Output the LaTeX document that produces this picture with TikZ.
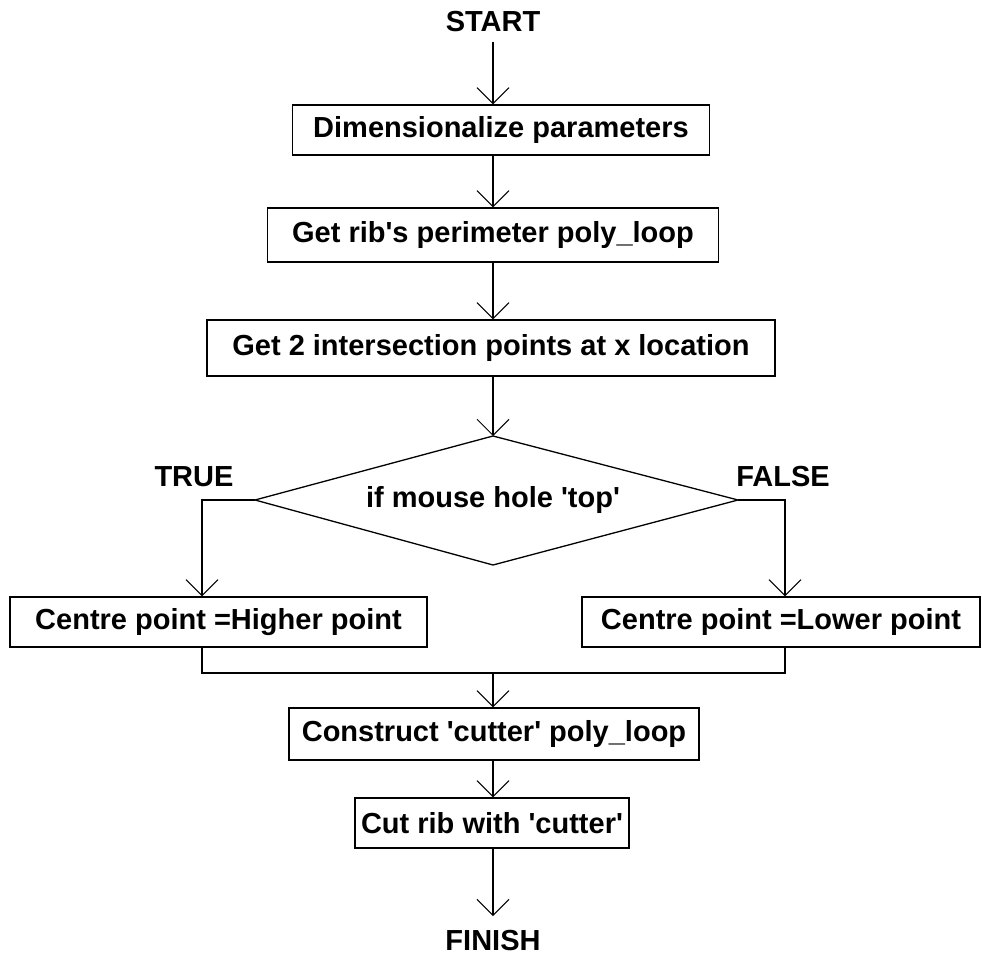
\documentclass[tikz,border=0pt]{standalone}
\usepackage{fontspec}
\setmainfont{Liberation Sans}
\setmonofont{Liberation Sans}
\usetikzlibrary{arrows.meta}
\begin{document}
\begin{tikzpicture}[x=1pt,y=-1pt,
  txt/.style={font=\ttfamily\bfseries\fontsize{29}{34}\selectfont, inner sep=0pt},
  box/.style={txt, draw, line width=1.3pt, minimum height=50pt},
  ln/.style={line width=1.3pt},
  arr/.style={ln, -{Straight Barb[length=16pt,width=32pt,line width=1pt]}}]
\useasboundingbox (0,0) rectangle (982,963);
% texts and boxes
\node[txt] (start) at (493,22) {START};
\node[box, minimum width=417pt] (b1) at (501,130) {Dimensionalize parameters};
\node[box, minimum width=451pt, minimum height=54pt] (b2) at (493,235) {Get rib's perimeter poly\_loop};
\node[box, minimum width=568pt, minimum height=56pt] (b3) at (491,348) {Get 2 intersection points at x location};
% decision
\coordinate (dt) at (493,436);
\coordinate (dr) at (738,500);
\coordinate (db) at (493,565);
\coordinate (dl) at (255,500);
\draw[ln] (dt) -- (dr) -- (db) -- (dl) -- cycle;
\node[txt] (dq) at (493,500) {if mouse hole 'top'};
\node[txt] (true) at (194,477) {TRUE};
\node[txt] (false) at (783,477) {FALSE};
% branch boxes
\node[box, minimum width=417pt] (bl) at (218.5,622) {Centre point =Higher point};
\node[box, minimum width=398pt] (br) at (781,622) {Centre point =Lower point};
\node[box, minimum width=410pt, minimum height=52pt] (b4) at (494,734) {Construct 'cutter' poly\_loop};
\node[box, minimum width=274pt] (b5) at (492,823) {Cut rib with 'cutter'};
\node[txt] (finish) at (493,941) {FINISH};
% helper coordinates
\coordinate (s0) at (493,42);
\coordinate (tl) at (202,500);
\coordinate (tr) at (785,500);
\coordinate (ml) at (202,673);
\coordinate (mr) at (785,673);
\coordinate (mc) at (493,673);
\coordinate (f0) at (493,916);
% connectors
\draw[arr] (s0) -- (s0 |- b1.north);
\draw[arr] (b1.south -| s0) -- (s0 |- b2.north);
\draw[arr] (b2.south -| s0) -- (s0 |- b3.north);
\draw[arr] (b3.south -| s0) -- (dt);
\draw[arr] (dl) -- (tl) -- (tl |- bl.north);
\draw[arr] (dr) -- (tr) -- (tr |- br.north);
\draw[ln] (bl.south -| ml) -- (ml) -- (mr) -- (br.south -| mr);
\draw[arr] (mc) -- (mc |- b4.north);
\draw[arr] (b4.south -| mc) -- (mc |- b5.north);
\draw[arr] (b5.south -| mc) -- (f0);
\end{tikzpicture}
\end{document}
